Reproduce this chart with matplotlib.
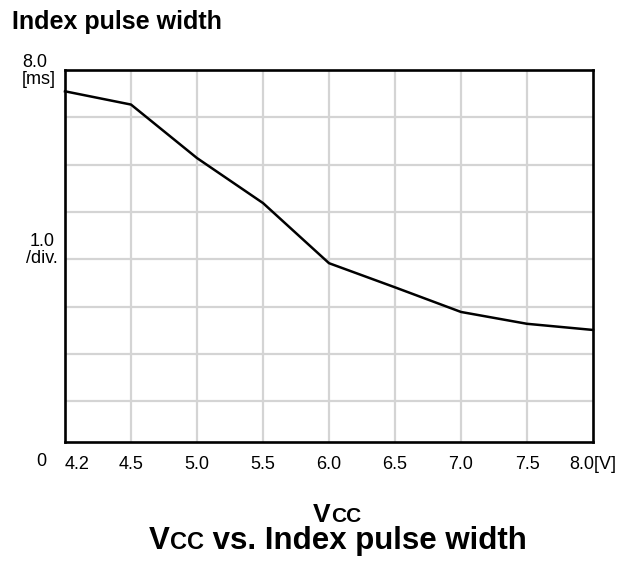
import matplotlib
matplotlib.use("Agg")
import matplotlib.pyplot as plt

plt.rcParams['font.family'] = ['Liberation Sans', 'DejaVu Sans']

# Data (axis position of each measured supply voltage; first point 4.2 V sits at the left edge)
vcc_pos = [4.0, 4.5, 5.0, 5.5, 6.0, 6.5, 7.0, 7.5, 8.0]
pulse_ms = [7.55, 7.27, 6.14, 5.19, 3.92, 3.41, 2.89, 2.64, 2.51]
x_tick_labels = ["4.2", "4.5", "5.0", "5.5", "6.0", "6.5", "7.0", "7.5", "8.0[V]"]
y_grid = [1, 2, 3, 4, 5, 6, 7]

W, H = 632, 562
fig = plt.figure(figsize=(W / 100, H / 100), dpi=100)

def fx(px):
    return px / W

def fy(py):
    return 1 - py / H

L, R, T, B = 65, 593, 70, 441.7
ax = fig.add_axes([fx(L), fy(B), fx(R) - fx(L), fy(T) - fy(B)])
ax.set_xlim(4.0, 8.0)
ax.set_ylim(0.15, 8.0)

for xv in vcc_pos[1:-1]:
    ax.axvline(xv, color='#d4d4d4', lw=1.6, zorder=1)
for yv in y_grid:
    ax.axhline(yv, color='#d4d4d4', lw=1.6, zorder=1)

ax.plot(vcc_pos, pulse_ms, color='black', lw=1.8, zorder=3, clip_on=False)

for s in ax.spines.values():
    s.set_linewidth(1.9)
    s.set_color('black')
    s.set_zorder(4)

ax.set_xticks(vcc_pos)
ax.set_xticklabels(x_tick_labels, fontsize=13)
ax.get_xticklabels()[0].set_ha('left')
ax.tick_params(axis='x', length=0, pad=10)
ax.set_yticks([])

# y-axis annotation
fig.text(fx(22), fy(71), "8.0\n[ms]", fontsize=13, ha='left', va='center',
         multialignment='left', linespacing=1.05)
fig.text(fx(42), fy(250), "1.0\n/div.", fontsize=13, ha='center', va='center',
         multialignment='center', linespacing=1.05)
fig.text(fx(41), fy(462), "0", fontsize=13, ha='center', va='center')

# title
fig.text(fx(12), fy(29), "Index pulse width", fontsize=18, fontweight='bold',
         ha='left', va='baseline')

# composite texts with small-cap "CC"
renderer = fig.canvas.get_renderer()

def composite(pieces, cx, base_py):
    arts = []
    widths = []
    for txt, size in pieces:
        t = fig.text(0, fy(base_py), txt, fontsize=size, fontweight='bold',
                     ha='left', va='baseline')
        arts.append(t)
        widths.append(t.get_window_extent(renderer).width)
    total = sum(widths)
    x = cx - total / 2
    for t, w in zip(arts, widths):
        t.set_x(fx(x))
        x += w

composite([("V", 19), ("CC", 15)], 337, 522)
composite([("V", 22.5), ("CC", 17), (" vs. Index pulse width", 22.5)], 338, 549)

fig.savefig("out.png", dpi=100)
